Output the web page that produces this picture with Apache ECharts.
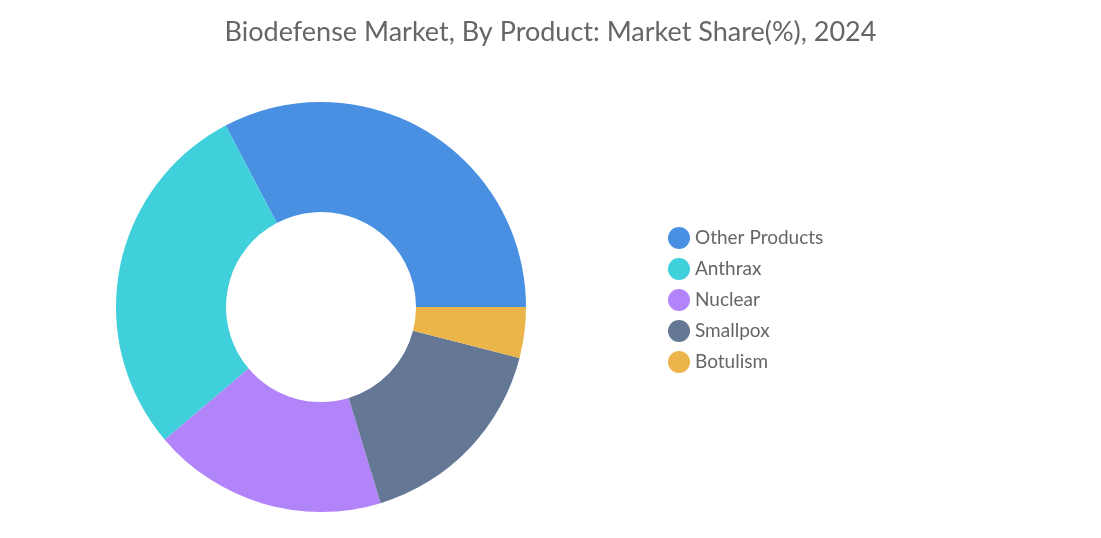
<!DOCTYPE html>
<html><head><meta charset="utf-8">
<script src="https://cdn.jsdelivr.net/npm/echarts@6/dist/echarts.min.js"></script>
<style>html,body{margin:0;padding:0;background:#fff}#c{width:1101px;height:538px}</style>
</head><body><div id="c"></div>
<script>
const categories = ["Other Products","Anthrax","Nuclear","Smallpox","Botulism"];
const values = [32.7, 28.5, 18.5, 16.3, 4.0];
const colors = ["#4A90E2","#3FD0DC","#B185F9","#647896","#EBB54A"];
const chart = echarts.init(document.getElementById('c'));
chart.setOption({
  animation:false,
  title:{text:"Biodefense Market, By Product: Market Share(%), 2024",left:'center',top:14,
    textStyle:{fontFamily:'Lato',fontWeight:'normal',fontSize:27,color:'#666'}},
  legend:{orient:'vertical',left:663,top:222,icon:'circle',itemWidth:22,itemHeight:22,itemGap:9,
    textStyle:{fontFamily:'Lato',fontSize:19,color:'#666'},data:categories},
  series:[{type:'pie',center:[321,307],radius:[95,205],clockwise:false,startAngle:0,
    label:{show:false},labelLine:{show:false},
    data:categories.map((n,i)=>({name:n,value:values[i],itemStyle:{color:colors[i]}}))}]
});
</script></body></html>
